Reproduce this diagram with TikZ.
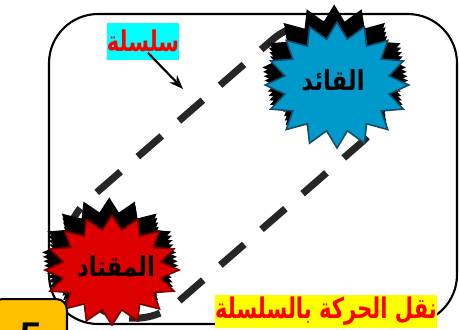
\documentclass[tikz,border=0pt]{standalone}
\usepackage{fontspec}
\setmainfont{Liberation Sans}
\newfontfamily\arabicfont[Script=Arabic]{DejaVu Sans}
\TeXXeTstate=1
\usetikzlibrary{arrows.meta,shapes.geometric,shadows}
\definecolor{leaderblue}{RGB}{0,153,204}
\definecolor{leaderrim}{RGB}{25,75,105}
\definecolor{drivenred}{RGB}{220,0,0}
\definecolor{drivenrim}{RGB}{120,0,0}
\definecolor{chaingray}{RGB}{38,38,38}
\definecolor{tagorange}{RGB}{255,192,0}
\definecolor{tagcyan}{RGB}{0,255,255}
\definecolor{tagyellow}{RGB}{255,255,0}
\newcommand{\tallar}[2][1.35]{\scalebox{1}[#1]{\beginR #2\endR}}

\begin{document}
\begin{tikzpicture}[x=0.02cm, y=-0.02cm,
    frame/.style={draw, line width=1.2pt, rounded corners=28pt},
    chainloop/.style={draw=chaingray, line width=4pt, dash pattern=on 18pt off 13pt},
    gear/.style={star, star points=16, star point ratio=1.35, inner sep=0pt, line width=0.9pt, transform shape,
      general shadow={shadow xshift=-0.4pt, shadow yshift=2.5pt, fill=black},
      general shadow={shadow xshift=-0.8pt, shadow yshift=5pt, fill=black},
      general shadow={shadow xshift=-1.2pt, shadow yshift=7.5pt, fill=black},
      general shadow={shadow xshift=-1.6pt, shadow yshift=10pt, fill=black}},
    gearname/.style={font=\arabicfont\bfseries\fontsize{13}{15}\selectfont, text=black},
    tag/.style={text=red, inner sep=0pt, font=\arabicfont\bfseries\fontsize{12}{14}\selectfont},
    >=Stealth
  ]
  \clip (0,0) rectangle (459,329);

  % frame
  \draw[frame] (49,14) rectangle (457,324);

  % chain loop
  \begin{scope}[shift={(225,171)}, rotate=41]
    \draw[chainloop, rounded corners=38pt] (-188,-68) rectangle (188,68);
  \end{scope}
  \coordinate (chaintip) at (183,89);

  % sprockets
  \node[gear, fill=leaderblue, draw=leaderrim, minimum size=2.52cm, xscale=1.14] (leader) at (337,85) {};
  \node[gearname] (leadername) at (333,80) {\tallar[1.2]{القائد}};
  \node[gear, fill=drivenred, draw=drivenrim, minimum size=2.2cm, xscale=1.22] (driven) at (112,270) {};
  \node[gearname] (drivenname) at (116,266) {\tallar[1.2]{المقتاد}};

  % labels
  \node[tag, fill=tagcyan, minimum width=1.36cm, minimum height=0.74cm] (chainlabel) at (143,41) {\tallar{سلسلة}};
  \draw[->, line width=1.2pt, >={Stealth[length=8pt, width=6pt]}] ([xshift=0.1cm, yshift=0.14cm]chainlabel.south) -- (chaintip);
  \node[tag, fill=tagyellow, minimum width=4.26cm, minimum height=0.66cm] (motionlabel) at (326,311) {\tallar{نقل الحركة بالسلسلة}};

  % number tag
  \node[draw, line width=1.2pt, fill=tagorange, rounded corners=6pt, minimum width=1.5cm, minimum height=1cm, anchor=north east] (numtag) at (68,298) {};
  \node[anchor=north, inner sep=0pt, font=\bfseries\fontsize{22}{24}\selectfont] (numtext) at (31,323) {5};
\end{tikzpicture}
\end{document}
